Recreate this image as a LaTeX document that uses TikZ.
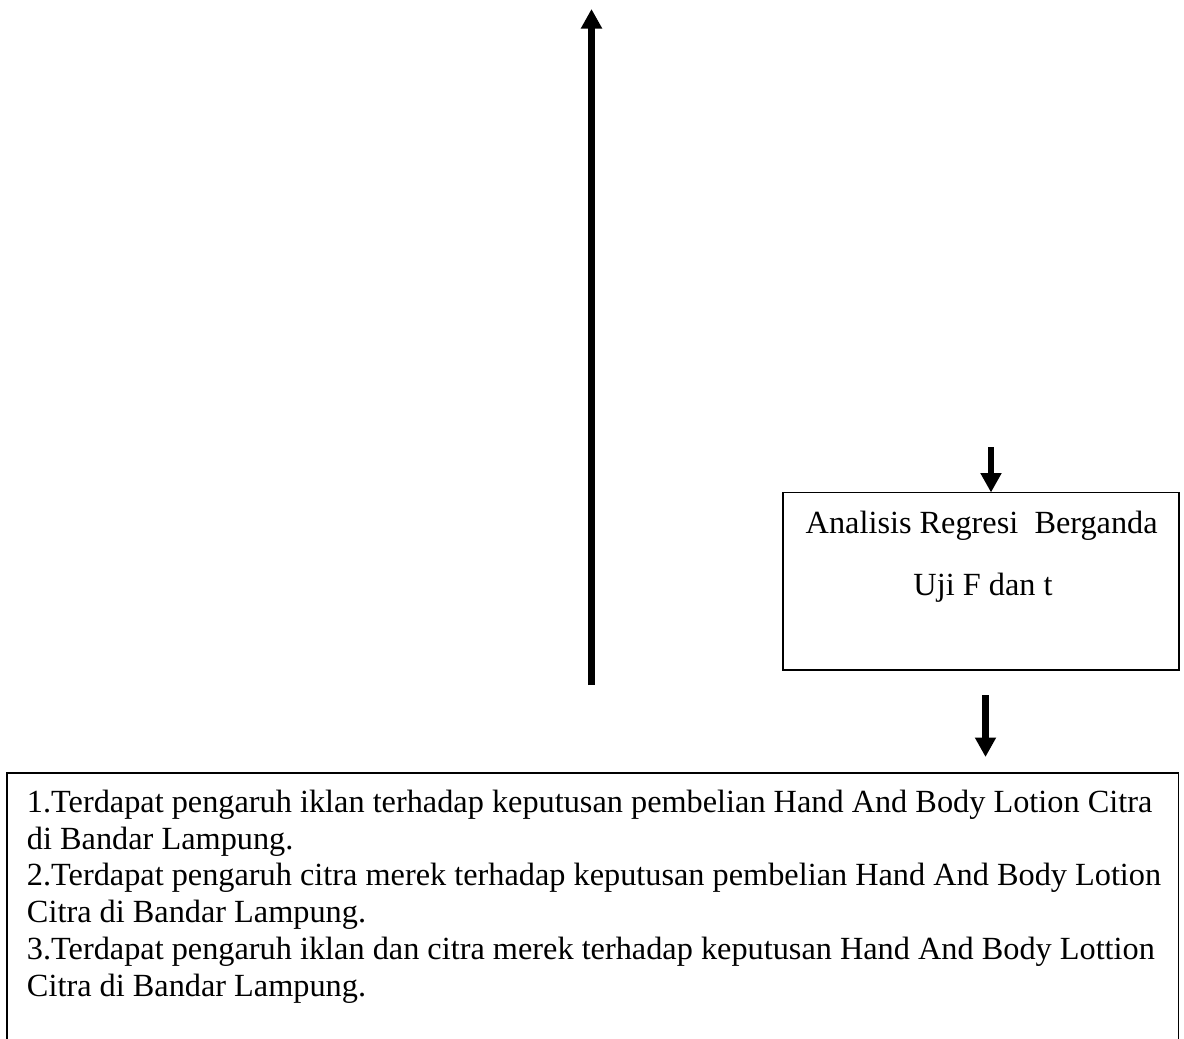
\documentclass[tikz,border=0pt]{standalone}
\usepackage{fontspec}
\setmainfont{Liberation Serif}
\usetikzlibrary{arrows.meta}
\begin{document}
\begin{tikzpicture}[x=1pt,y=-1pt,
  boxline/.style={draw=black, line width=1.2pt, inner sep=0pt, outer sep=0pt},
  txt/.style={font=\fontsize{32.3}{36.7}\selectfont, inner sep=0pt, outer sep=0pt},
  thickarrow/.style={line width=6.5pt, -{Triangle[width=20pt,length=19.5pt]}}]
\useasboundingbox (0,0) rectangle (1184,1039);
\clip (0,0) rectangle (1184,1039);
% regression box
\node[boxline, minimum width=396pt, minimum height=177.5pt, anchor=north west] (reg) at (783,492.5) {};
\node[txt, anchor=base] (regA) at (981.7,533) {Analisis Regresi\ \ Berganda};
\node[txt, anchor=base] (regB) at (983,595) {Uji F dan t};
% result box
\node[boxline, minimum width=1171.5pt, minimum height=300pt, anchor=north west] (res) at (7,773) {};
\node[txt, anchor=base west, text width=1400pt, align=flush left] (resT) at (27,812.5) {1.Terdapat pengaruh iklan terhadap keputusan pembelian Hand And Body Lotion Citra\\
di Bandar Lampung.\\
2.Terdapat pengaruh citra merek terhadap keputusan pembelian Hand And Body Lotion\\
Citra di Bandar Lampung.\\
3.Terdapat pengaruh iklan dan citra merek terhadap keputusan Hand And Body Lottion\\
Citra di Bandar Lampung.};
% arrows
\coordinate (bigS) at (591.5,685);
\coordinate (bigE) at (591.5,9);
\draw[thickarrow] (bigS) -- (bigE);
\coordinate (a1S) at (991,447);
\draw[thickarrow] (a1S) -- (a1S |- reg.north);
\coordinate (a2S) at (985.5,695);
\coordinate (a2E) at (985.5,757);
\draw[thickarrow] (a2S) -- (a2E);
\end{tikzpicture}
\end{document}
